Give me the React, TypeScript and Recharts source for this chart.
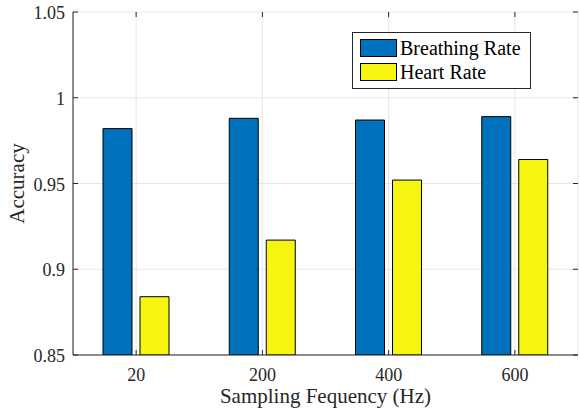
import React from 'react';
import { BarChart, Bar, XAxis, YAxis, CartesianGrid, Legend } from 'recharts';

const categories = ['20', '200', '400', '600'];
const breathingRate = [0.982, 0.988, 0.987, 0.989];
const heartRate = [0.884, 0.917, 0.952, 0.964];
const yTicks = [0.85, 0.9, 0.95, 1, 1.05];

const series = [
  { key: 'breathing', label: 'Breathing Rate', color: '#0072BD' },
  { key: 'heart', label: 'Heart Rate', color: '#F5F50F' },
];

const data = categories.map((name, i) => ({
  name,
  breathing: breathingRate[i],
  heart: heartRate[i],
}));

const W = 580;
const H = 414;
const PLOT_LEFT = 73;
const PLOT_TOP = 12;
const PLOT_RIGHT = 578;
const PLOT_BOTTOM = 355;
const FONT = 'Liberation Serif, serif';
const AXIS = '#262626';
const TICK_LEN = 5;

const XTick = (props: any) => {
  const { x, payload } = props;
  return (
    <g>
      <line x1={x} x2={x} y1={PLOT_BOTTOM} y2={PLOT_BOTTOM - TICK_LEN} stroke={AXIS} />
      <line x1={x} x2={x} y1={PLOT_TOP} y2={PLOT_TOP + TICK_LEN} stroke={AXIS} />
      <text x={x} y={PLOT_BOTTOM + 26} textAnchor="middle" fontFamily={FONT} fontSize={18} fill={AXIS}>
        {payload.value}
      </text>
    </g>
  );
};

const YTick = (props: any) => {
  const { y, payload } = props;
  return (
    <g>
      <line x1={PLOT_LEFT} x2={PLOT_LEFT + TICK_LEN} y1={y} y2={y} stroke={AXIS} />
      <line x1={PLOT_RIGHT} x2={PLOT_RIGHT - TICK_LEN} y1={y} y2={y} stroke={AXIS} />
      <text x={PLOT_LEFT - 8} y={y + 7} textAnchor="end" fontFamily={FONT} fontSize={18} fill={AXIS}>
        {String(payload.value)}
      </text>
    </g>
  );
};

const LegendBox = () => (
  <div
    style={{
      border: `1px solid ${AXIS}`,
      background: '#fff',
      padding: '3px 8px 4px 7px',
      fontFamily: FONT,
      fontSize: 20,
      color: '#000',
      width: 162,
    }}
  >
    {series.map(s => (
      <div key={s.key} style={{ display: 'flex', alignItems: 'center', height: 24 }}>
        <div style={{ width: 35, height: 16, background: s.color, border: '1px solid #000', marginRight: 3 }} />
        <span style={{ lineHeight: '24px' }}>{s.label}</span>
      </div>
    ))}
  </div>
);

export default function App() {
  return (
    <div style={{ position: 'absolute', left: 0, top: 0, width: W, height: H, background: '#fff' }}>
      <BarChart
        width={W}
        height={H}
        data={data}
        margin={{ top: PLOT_TOP, right: W - PLOT_RIGHT, bottom: 0, left: 0 }}
        barSize={29}
        barGap={8}
      >
        <CartesianGrid stroke="#e6e6e6" strokeWidth={1} />
        <XAxis
          dataKey="name"
          height={H - PLOT_BOTTOM}
          tick={<XTick />}
          tickLine={false}
          tickSize={0}
          axisLine={{ stroke: AXIS }}
          label={{ value: 'Sampling Fequency (Hz)', position: 'insideBottom', offset: 11, fontFamily: FONT, fontSize: 21, fill: AXIS }}
        />
        <XAxis xAxisId="top" orientation="top" dataKey="name" height={0} tick={false} tickLine={false} axisLine={{ stroke: AXIS }} />
        <YAxis
          width={PLOT_LEFT}
          domain={[0.85, 1.05]}
          ticks={yTicks}
          allowDataOverflow
          tick={<YTick />}
          tickLine={false}
          tickSize={0}
          axisLine={{ stroke: AXIS }}
          label={{ value: 'Accuracy', angle: -90, position: 'insideLeft', offset: 17, fontFamily: FONT, fontSize: 21, fill: AXIS, style: { textAnchor: 'middle' } }}
        />
        <YAxis yAxisId="right" orientation="right" width={0} domain={[0.85, 1.05]} tick={false} tickLine={false} axisLine={{ stroke: AXIS }} />
        <Legend
          layout="vertical"
          align="center"
          verticalAlign="middle"
          content={<LegendBox />}
          wrapperStyle={{ position: 'absolute', left: 352, top: 32, width: 'auto' }}
        />
        {series.map(s => (
          <Bar
            key={s.key}
            dataKey={s.key}
            name={s.label}
            fill={s.color}
            stroke="#000"
            strokeWidth={1}
            isAnimationActive={false}
          />
        ))}
      </BarChart>
    </div>
  );
}
